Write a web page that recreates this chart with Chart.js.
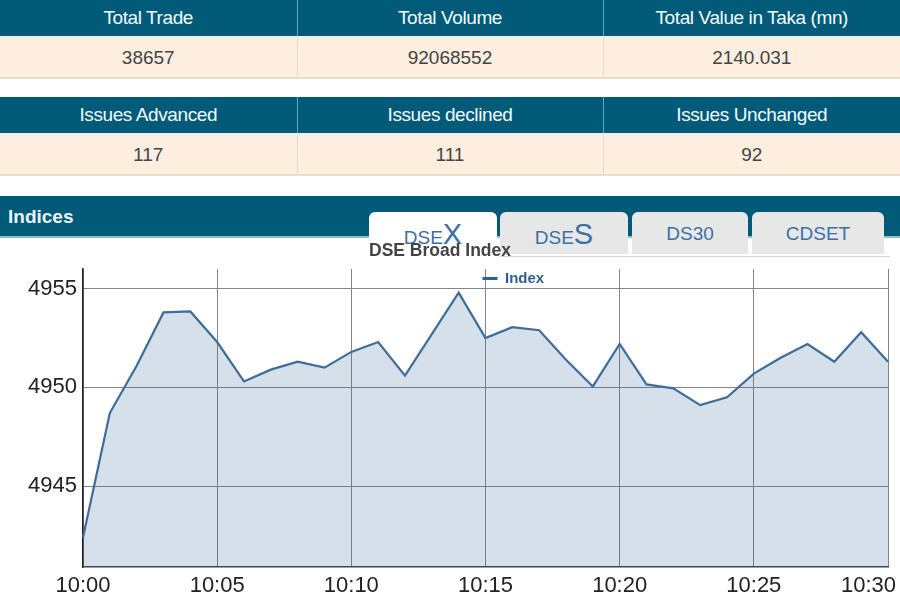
<!DOCTYPE html>
<html>
<head>
  <meta charset="UTF-8">
  <title>DSE Broad Index</title>
  <script src="https://cdn.jsdelivr.net/npm/chart.js"></script>
  <style>
    body { margin: 0; width: 900px; height: 600px; overflow: hidden; background: #fff;
           font-family: "Liberation Sans", Arial, sans-serif; position: relative; }
    table.stats { position: absolute; left: 0; width: 900px; border-collapse: collapse; table-layout: fixed; }
    table.stats th { background: #015a78; color: #f2fbff; font-weight: normal; font-size: 19px;
                     letter-spacing: -0.4px; height: 36px; padding: 0; border-right: 1px solid #5fa8bb;
                     border-bottom: 2px solid #e4f1ee; }
    table.stats td { background: #fdeee0; color: #444; font-size: 19px; text-align: center; height: 39px;
                     padding: 0; border-right: 1px solid #e2dac4; border-bottom: 2px solid #e6dfca; }
    table.stats th:last-child, table.stats td:last-child { border-right: none; }
    .bar { position: absolute; left: 0; top: 196px; width: 900px; height: 40px; background: #015a78;
           border-bottom: 2px solid #8cc0cf; }
    .bar .lbl { position: absolute; left: 8px; top: 10px; color: #e9f6fb; font-weight: bold; font-size: 19px; }
    .tab { position: absolute; top: 212px; height: 42px; background: #e7e7e7; color: #3b6fa6;
           border-radius: 6px 6px 0 0; text-align: center; font-size: 19px; line-height: 44px; }
    .tab.on { background: #fff; height: 46px; }
    .tab big { font-size: 29px; }
    .tabline { position: absolute; left: 500px; top: 256px; width: 390px; height: 1px; background: #d4d4d4; }
    #ctitle { position: absolute; left: 369px; top: 240px; font-weight: bold; font-size: 17.5px; color: #444; z-index: 3; }
    #wrap { position: absolute; left: 0; top: 240px; width: 900px; height: 360px; }
  </style>
</head>
<body>
  <table class="stats" style="top:0">
    <colgroup><col style="width:297px"><col style="width:306px"><col style="width:297px"></colgroup>
    <tr><th>Total Trade</th><th>Total Volume</th><th>Total Value in Taka (mn)</th></tr>
    <tr><td>38657</td><td>92068552</td><td>2140.031</td></tr>
  </table>
  <table class="stats" style="top:97px">
    <colgroup><col style="width:297px"><col style="width:306px"><col style="width:297px"></colgroup>
    <tr><th>Issues Advanced</th><th>Issues declined</th><th>Issues Unchanged</th></tr>
    <tr><td>117</td><td>111</td><td>92</td></tr>
  </table>

  <div class="bar"><span class="lbl">Indices</span></div>
  <div class="tab on" style="left:369px;width:128px">DSE<big>X</big></div>
  <div class="tab" style="left:500px;width:128px">DSE<big>S</big></div>
  <div class="tab" style="left:632px;width:116px">DS30</div>
  <div class="tab" style="left:752px;width:132px">CDSET</div>
  <div class="tabline"></div>
  <div id="ctitle">DSE Broad Index</div>

  <div id="wrap"><canvas id="indexChart"></canvas></div>

  <script>
    // one reading per minute, 10:00 - 10:30
    const times = ['10:00', '10:01', '10:02', '10:03', '10:04', '10:05', '10:06', '10:07', '10:08', '10:09',
                   '10:10', '10:11', '10:12', '10:13', '10:14', '10:15', '10:16', '10:17', '10:18', '10:19',
                   '10:20', '10:21', '10:22', '10:23', '10:24', '10:25', '10:26', '10:27', '10:28', '10:29',
                   '10:30'];
    const indexValues = [4942.4, 4948.7, 4951.1, 4953.8, 4953.85, 4952.3, 4950.3, 4950.9, 4951.3, 4951.0,
                         4951.8, 4952.3, 4950.6, 4952.7, 4954.8, 4952.5, 4953.05, 4952.9, 4951.4, 4950.05,
                         4952.2, 4950.15, 4949.95, 4949.1, 4949.5, 4950.7, 4951.5, 4952.2, 4951.3, 4952.8,
                         4951.3];
    const yTicks = [4945, 4950, 4955];
    const yMin = 4940.9, yMax = 4956.0;

    // legend sits inside the plot, starting at the plot's centre
    const legendShift = {
      id: 'legendShift',
      afterLayout(chart) {
        const lg = chart.legend, ca = chart.chartArea;
        const dx = (ca.left + ca.right) / 2 - 4 - lg.left;
        const dy = ca.top + 1 - lg.top;
        lg.left += dx; lg.right += dx;
        lg.top += dy; lg.bottom += dy;
      }
    };

    // keep the last time label inside the canvas (right aligned at the edge)
    const lastLabelInside = {
      id: 'lastLabelInside',
      beforeDraw(chart) {
        const items = chart.scales.x.getLabelItems();
        const last = items[items.length - 1];
        if (last) {
          last.options.textAlign = 'right';
          last.options.translation[0] = chart.width - 4;
        }
      }
    };

    const tickFont = { family: '"Liberation Sans", Arial, sans-serif', size: 22 };

    new Chart(document.getElementById('indexChart').getContext('2d'), {
      type: 'line',
      data: {
        labels: times,
        datasets: [{
          label: 'Index',
          data: indexValues,
          borderColor: '#3e6c9b',
          borderWidth: 2.2,
          backgroundColor: 'rgba(45, 100, 155, 0.2)',
          fill: 'start',
          tension: 0,
          pointRadius: 0
        }]
      },
      options: {
        responsive: true,
        maintainAspectRatio: false,
        animation: false,
        layout: { padding: { top: 29, right: 12, left: 0, bottom: 0 } },
        plugins: {
          legend: {
            position: 'chartArea',
            align: 'start',
            labels: {
              usePointStyle: true,
              pointStyle: 'line',
              pointStyleWidth: 15,
              padding: 1,
              color: '#2f5f91',
              font: { family: '"Liberation Sans", Arial, sans-serif', size: 15, weight: 'bold' },
              generateLabels(chart) {
                const items = Chart.defaults.plugins.legend.labels.generateLabels(chart);
                items.forEach(it => { it.lineWidth = 3; it.strokeStyle = '#2f5f91'; });
                return items;
              }
            }
          },
          title: { display: false },
          tooltip: { enabled: false }
        },
        scales: {
          x: {
            grid: { color: '#858585', drawTicks: false },
            border: { color: '#444', width: 1.5 },
            ticks: { autoSkip: false, maxRotation: 0, padding: 6, color: '#222', font: tickFont },
            afterBuildTicks(axis) {
              axis.ticks = axis.ticks.filter(t => t.value % 5 === 0);
            },
            afterFit(axis) {
              axis.height = 33;
              axis.paddingLeft = 0;
              axis.paddingRight = 0;
            }
          },
          y: {
            min: yMin,
            max: yMax,
            grid: { color: '#858585', drawTicks: false },
            border: { color: '#222', width: 1.5 },
            ticks: { padding: 6, color: '#222', font: tickFont, callback: v => String(v) },
            afterBuildTicks(axis) {
              axis.ticks = yTicks.map(v => ({ value: v }));
            },
            afterFit(axis) {
              axis.width = 83;
            }
          }
        }
      },
      plugins: [legendShift, lastLabelInside]
    });
  </script>
</body>
</html>
